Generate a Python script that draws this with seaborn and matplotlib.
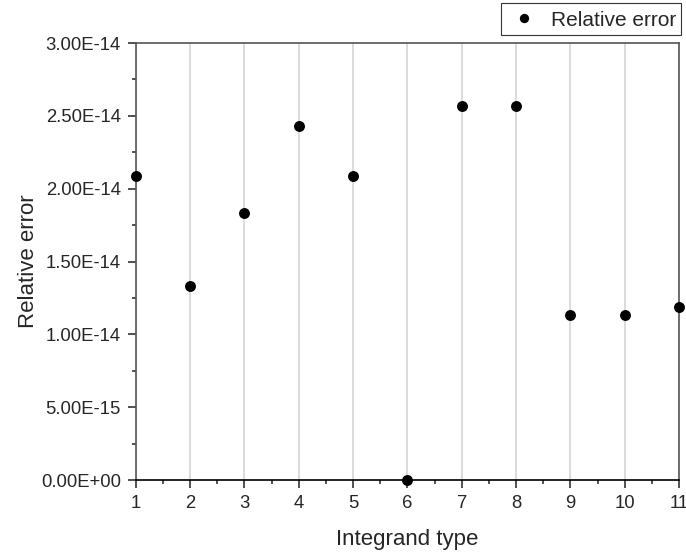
import numpy as np
import seaborn as sns
import matplotlib.pyplot as plt
import pandas as pd
from matplotlib.ticker import MultipleLocator, FuncFormatter

# values
integrand_type = [1, 2, 3, 4, 5, 6, 7, 8, 9, 10, 11]
relative_error = [2.09e-14, 1.33e-14, 1.83e-14, 2.43e-14, 2.09e-14, 0.0,
                  2.57e-14, 2.57e-14, 1.13e-14, 1.13e-14, 1.19e-14]

df = pd.DataFrame({"Integrand type": integrand_type, "Relative error": relative_error})

sns.set_style("white")
plt.rcParams['font.family'] = ['Liberation Sans', 'DejaVu Sans']

fig = plt.figure(figsize=(6.86, 5.55), dpi=100)
ax = fig.add_axes([0.198, 0.135, 0.792, 0.7875])

sns.scatterplot(data=df, x="Integrand type", y="Relative error", ax=ax,
                color="black", s=62, edgecolor="black", linewidth=0,
                label="Relative error", clip_on=False, zorder=3)

ax.set_xlim(1, 11)
ax.set_ylim(0, 3e-14)
ax.xaxis.set_major_locator(MultipleLocator(1))
ax.xaxis.set_minor_locator(MultipleLocator(0.5))
ax.yaxis.set_major_locator(MultipleLocator(5e-15))
ax.yaxis.set_minor_locator(MultipleLocator(2.5e-15))

def sci(v, pos):
    s = "%.2E" % v
    mant, exp = s.split("E")
    return mant + "E" + exp[0] + exp[1:].lstrip("0").rjust(2, "0")

ax.yaxis.set_major_formatter(FuncFormatter(sci))
ax.grid(axis="x", which="major", color="#d4d4d4", linewidth=1.2)
ax.tick_params(axis="both", which="major", direction="out", length=5.8, width=1.2,
               labelsize=13.3, color="#333333", left=True, bottom=True, pad=5)
ax.tick_params(axis="both", which="minor", direction="out", length=3, width=1.2,
               color="#333333", left=True, bottom=True)

for side in ["top", "right", "left"]:
    ax.spines[side].set_color("#555555")
    ax.spines[side].set_linewidth(1.2)
ax.spines["bottom"].set_color("black")
ax.spines["bottom"].set_linewidth(1.2)

ax.set_xlabel("Integrand type", fontsize=16, labelpad=12)
ax.set_ylabel("Relative error", fontsize=16, labelpad=1)

leg = ax.legend(loc="upper right", bbox_to_anchor=(1.0037, 1.0915), fontsize=15,
                frameon=True, fancybox=False, borderpad=0.25, borderaxespad=0,
                handlelength=1.7, handleheight=1.2, handletextpad=0.45,
                markerscale=0.85)
leg.get_frame().set_edgecolor("black")
leg.get_frame().set_linewidth(0.8)

fig.savefig("out.png", dpi=100)
